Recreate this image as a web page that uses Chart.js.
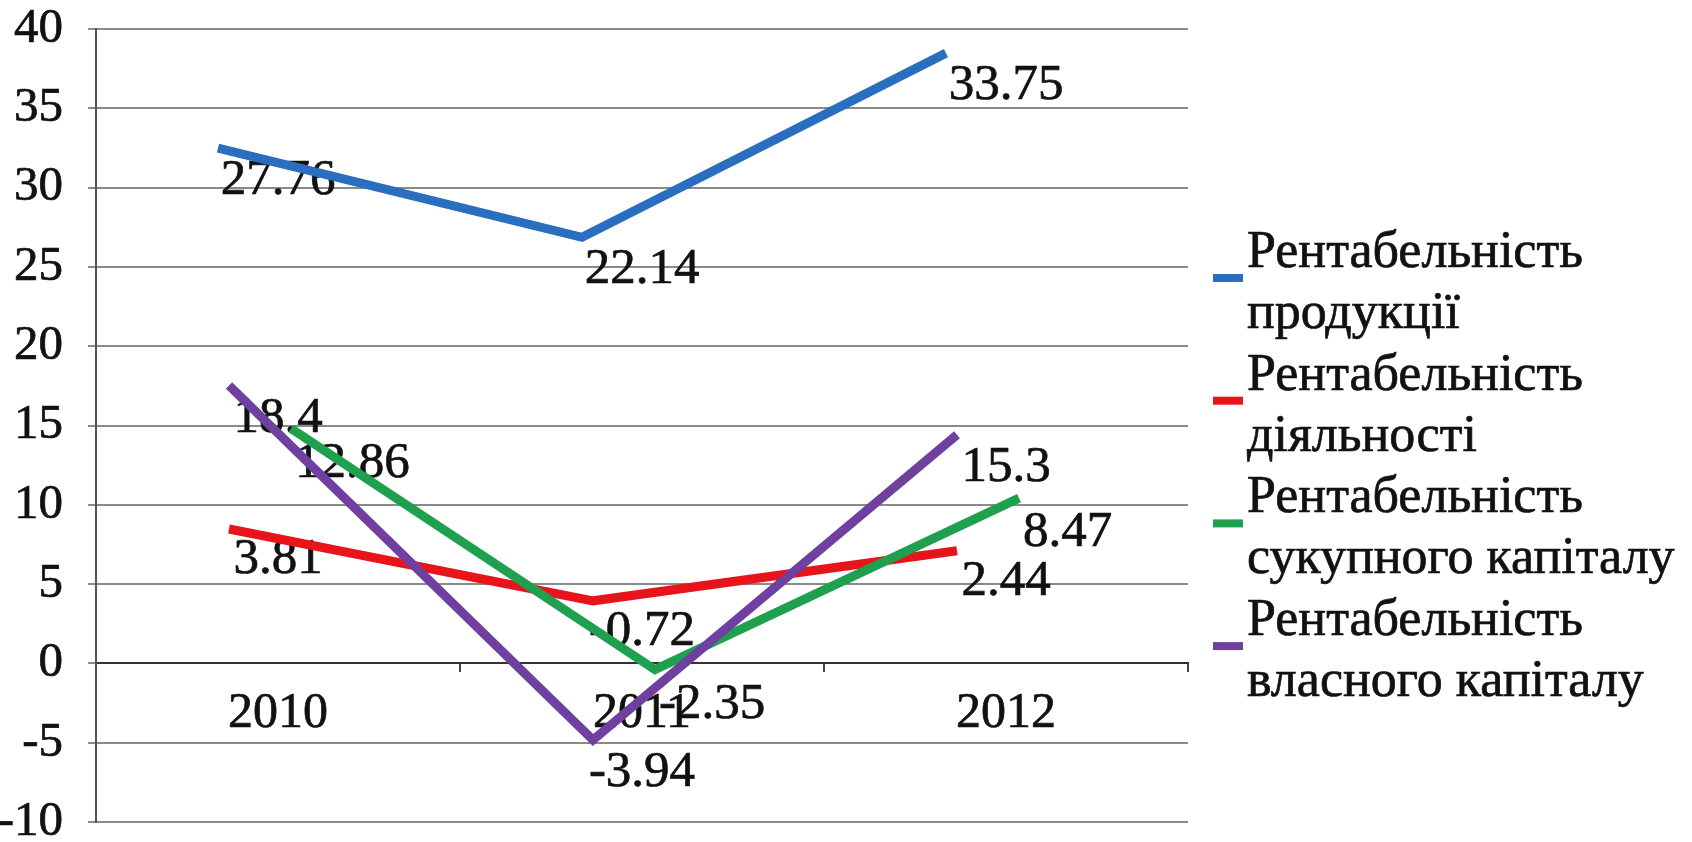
<!DOCTYPE html>
<html>
<head>
<meta charset="utf-8">
<script src="https://cdn.jsdelivr.net/npm/chart.js@4.4.1/dist/chart.umd.min.js"></script>
<style>
  html, body { margin: 0; padding: 0; background: #fff; }
  #wrap { width: 1692px; height: 842px; }
</style>
</head>
<body>
<div id="wrap"><canvas id="chart"></canvas></div>
<script>
const years = ['2010', '2011', '2012'];
const seriesNames = [
    'Рентабельність продукції',
    'Рентабельність діяльності',
    'Рентабельність сукупного капіталу',
    'Рентабельність власного капіталу'
];
const productValues = [27.76, 22.14, 33.75];
const activityValues = [3.81, -0.72, 2.44];
const totalCapitalValues = [12.86, -2.35, 8.47];
const equityValues = [18.4, -3.94, 15.3];
const yMin = -10, yMax = 40, yStep = 5;

const serif = '"Liberation Serif", "Times New Roman", serif';
const textColor = '#111';

// the picture has each line drawn a bit off from its labels, so keep that as a style offset
function series(i, values, color, shift, labelPos) {
    return {
        label: seriesNames[i],
        data: values,
        borderColor: color,
        backgroundColor: color,
        borderWidth: 9,
        pointRadius: 0,
        tension: 0,
        clip: false,
        order: 4 - i,
        shift: shift,
        labelPos: labelPos
    };
}

const datasets = [
    series(0, productValues, '#2a6fbf', { x: -60, y: -75 }, 'above'),
    series(1, activityValues, '#e8141c', { x: -49, y: -74 }, 'above'),
    series(2, totalCapitalValues, '#1fa04f', { x: 13, y: -31 }, 'right'),
    series(3, equityValues, '#7040a0', { x: -49, y: 14 }, 'below')
];

function drawText(ctx, txt, x, y) {
    ctx.strokeText(txt, x, y);
    ctx.fillText(txt, x, y);
}

const lineShift = {
    id: 'lineShift',
    beforeDatasetDraw(chart, args) {
        const s = chart.data.datasets[args.index].shift;
        chart.ctx.save();
        chart.ctx.translate(s.x, s.y);
    },
    afterDatasetDraw(chart) {
        chart.ctx.restore();
    }
};

const valueLabels = {
    id: 'valueLabels',
    beforeDatasetsDraw(chart) {
        const ctx = chart.ctx;
        ctx.save();
        ctx.font = '51px ' + serif;
        ctx.fillStyle = textColor;
        ctx.strokeStyle = textColor;
        ctx.lineWidth = 0.7;
        ctx.textBaseline = 'middle';
        chart.data.datasets.forEach((ds, i) => {
            const meta = chart.getDatasetMeta(i);
            meta.data.forEach((pt, j) => {
                const txt = String(ds.data[j]);
                if (ds.labelPos === 'right') {
                    ctx.textAlign = 'left';
                    drawText(ctx, txt, pt.x + 17, pt.y + 4);
                } else if (ds.labelPos === 'below') {
                    ctx.textAlign = 'center';
                    drawText(ctx, txt, pt.x, pt.y + 47);
                } else {
                    ctx.textAlign = 'center';
                    drawText(ctx, txt, pt.x, pt.y - 43);
                }
            });
        });
        ctx.restore();
    }
};

const sideLegend = {
    id: 'sideLegend',
    afterDraw(chart) {
        const ctx = chart.ctx;
        const left = chart.chartArea.right + 25;
        ctx.save();
        ctx.font = '52px ' + serif;
        ctx.textBaseline = 'alphabetic';
        ctx.textAlign = 'left';
        ctx.lineWidth = 0.7;
        ctx.strokeStyle = textColor;
        chart.data.datasets.forEach((ds, i) => {
            const base = 267 + i * 122.7;
            const words = ds.label.split(' ');
            const lines = [words[0], words.slice(1).join(' ')];
            ctx.fillStyle = ds.borderColor;
            ctx.fillRect(left, base + 7, 30, 8);
            ctx.fillStyle = textColor;
            lines.forEach((t, k) => drawText(ctx, t, left + 34, base + k * 61));
        });
        ctx.restore();
    }
};

new Chart(document.getElementById('chart'), {
    type: 'line',
    data: { labels: years, datasets: datasets },
    plugins: [lineShift, valueLabels, sideLegend],
    options: {
        responsive: true,
        maintainAspectRatio: false,
        animation: false,
        events: [],
        layout: { padding: { left: 0, top: 29, right: 504, bottom: 20 } },
        plugins: {
            legend: { display: false },
            tooltip: { enabled: false }
        },
        scales: {
            x: {
                type: 'category',
                offset: true,
                position: { y: 0 },
                grid: { drawOnChartArea: false, offset: true, tickLength: 8, color: '#444', lineWidth: 2 },
                border: { color: '#333', width: 2 },
                ticks: {
                    font: { family: serif, size: 50 }, color: textColor, padding: 12, maxRotation: 0,
                    textStrokeColor: textColor, textStrokeWidth: 0.7
                },
                afterFit(scale) { scale.height = 0; }
            },
            y: {
                min: yMin,
                max: yMax,
                grid: { color: '#8a8a8a', lineWidth: 2, tickLength: 8 },
                border: { color: '#555', width: 2 },
                ticks: {
                    stepSize: yStep, font: { family: serif, size: 49 }, color: textColor, padding: 25,
                    textStrokeColor: textColor, textStrokeWidth: 0.7
                },
                afterFit(scale) {
                    scale.width = 96;
                    scale.paddingTop = 0;
                    scale.paddingBottom = 0;
                }
            }
        }
    }
});
</script>
</body>
</html>
